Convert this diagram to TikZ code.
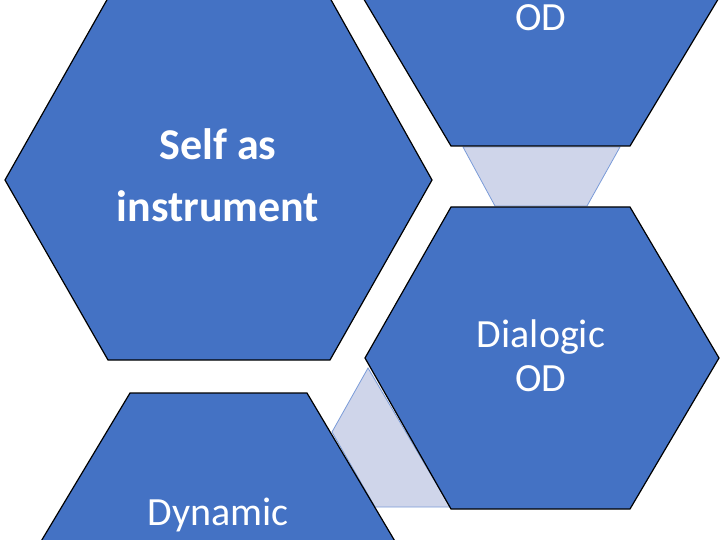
\documentclass[tikz,border=0pt]{standalone}
\usepackage{fontspec}
\setmainfont{Carlito}
\definecolor{hexblue}{HTML}{4472C4}
\definecolor{conn}{HTML}{CFD5EA}
\definecolor{connline}{HTML}{7A9BD8}
\begin{document}
\begin{tikzpicture}[x=1pt,y=-1pt,
  hexa/.style={fill=hexblue,draw=black,line width=1.2pt,line join=miter},
  link/.style={fill=conn,draw=connline,line width=0.8pt},
  lbl/.style={text=white,align=center,font=\fontsize{40}{44}\selectfont},
  big/.style={text=white,align=center,font=\fontsize{44}{62}\selectfont\bfseries}]
\useasboundingbox (0,0) rectangle (720,540);
\clip (0,0) rectangle (720,540);
% connectors
\path[link] (463,147) -- (620,147) -- (587,206) -- (495,206) -- cycle;
\path[link] (368,368) -- (332,432) -- (375,507) -- (450,507) -- cycle;
% hexagons
\path[hexa] (108,-2) -- (330,-2) -- (432,180) -- (330,360) -- (108,360) -- (5,180) -- cycle;
\path[hexa] (451,-154) -- (630,-154) -- (720,-4) -- (630,146) -- (451,146) -- (362,-4) -- cycle;
\path[hexa] (451,207) -- (630,207) -- (719,358) -- (630,509) -- (451,509) -- (365,358) -- cycle;
\path[hexa] (130,393) -- (307,393) -- (396,543) -- (307,693) -- (130,693) -- (40,543) -- cycle;
% labels
\node[big] (self) at (218,175) {Self as\\instrument};
\node[lbl] (od) at (541,18) {OD};
\node[lbl] (dial) at (541,356) {Dialogic\\OD};
\node[lbl] (dyn) at (218,515) {Dynamic};
\end{tikzpicture}
\end{document}
